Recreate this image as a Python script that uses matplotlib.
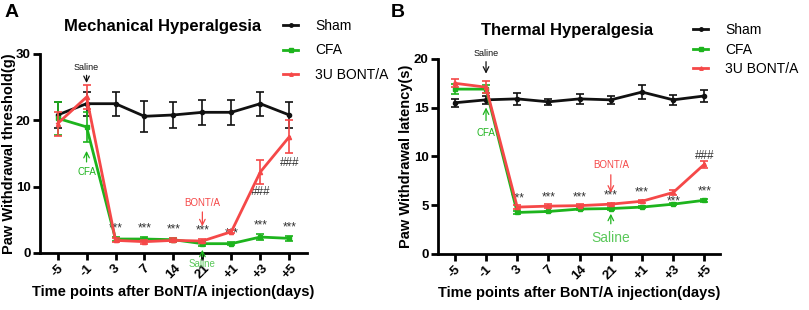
import numpy as np
import matplotlib
matplotlib.use("Agg")
import matplotlib.pyplot as plt
from matplotlib.lines import Line2D

plt.rcParams['font.family'] = ['Liberation Sans', 'DejaVu Sans']

labels = ['-5', '-1', '3', '7', '14', '21', '+1', '+3', '+5']

# Mechanical hyperalgesia (g)
mech_sham = [20.8, 22.5, 22.5, 20.6, 20.8, 21.2, 21.2, 22.5, 20.8]
mech_sham_err = [2.0, 1.8, 1.8, 2.3, 2.0, 1.9, 1.9, 1.8, 2.0]
mech_cfa = [20.3, 19.0, 2.1, 2.1, 2.0, 1.4, 1.4, 2.4, 2.2]
mech_cfa_err = [2.5, 2.3, 0.3, 0.3, 0.3, 0.3, 0.2, 0.4, 0.4]
mech_bont = [19.5, 23.5, 1.9, 1.7, 1.9, 1.8, 3.2, 12.2, 17.5]
mech_bont_err = [1.8, 1.8, 0.3, 0.3, 0.3, 0.3, 0.2, 1.8, 2.5]

# Thermal hyperalgesia (s)
therm_sham = [15.5, 15.8, 15.9, 15.6, 15.9, 15.8, 16.6, 15.8, 16.2]
therm_sham_err = [0.4, 0.4, 0.6, 0.3, 0.5, 0.4, 0.7, 0.5, 0.6]
therm_cfa = [16.9, 16.9, 4.25, 4.35, 4.6, 4.65, 4.8, 5.1, 5.5]
therm_cfa_err = [0.5, 0.4, 0.15, 0.1, 0.1, 0.1, 0.1, 0.1, 0.15]
therm_bont = [17.5, 17.1, 4.8, 4.9, 4.95, 5.1, 5.4, 6.3, 9.2]
therm_bont_err = [0.4, 0.6, 0.2, 0.2, 0.15, 0.15, 0.15, 0.25, 0.35]

BLACK = '#111111'
GREEN = '#1db41d'
RED = '#f54848'
STAR = '#333333'

fig = plt.figure(figsize=(8.09, 3.10), dpi=100)
axA = fig.add_axes([0.049, 0.184, 0.330, 0.642])
axB = fig.add_axes([0.541, 0.181, 0.349, 0.629])

x = np.arange(len(labels))


def draw(ax, sham, sham_e, cfa, cfa_e, bont, bont_e):
    kw = dict(lw=2, capsize=3, capthick=1.2, elinewidth=1.2, markersize=3)
    ax.errorbar(x, sham, yerr=sham_e, color=BLACK, marker='o', zorder=3, **kw)
    ax.errorbar(x, cfa, yerr=cfa_e, color=GREEN, marker='s', zorder=4, **kw)
    ax.errorbar(x, bont, yerr=bont_e, color=RED, marker='^', zorder=5, **kw)
    for s in ['top', 'right']:
        ax.spines[s].set_visible(False)
    for s in ['left', 'bottom']:
        ax.spines[s].set_linewidth(2)
    ax.tick_params(width=2, length=5, pad=1.5)
    ax.tick_params(axis='y', labelsize=9.5)
    ax.tick_params(axis='x', labelsize=9.5)
    ax.set_xticks(x)
    ax.set_xticklabels(labels, rotation=45, fontweight='bold')
    for t in ax.get_yticklabels():
        t.set_fontweight('bold')
    ax.set_xlabel('Time points after BoNT/A injection(days)', fontsize=10.5,
                  fontweight='bold', labelpad=3)


def legend(ax, x0, ytop, spacing):
    handles = [Line2D([], [], color=BLACK, lw=2, marker='o', markersize=2.5),
               Line2D([], [], color=GREEN, lw=2, marker='s', markersize=2.5),
               Line2D([], [], color=RED, lw=2, marker='^', markersize=2.5)]
    ax.legend(handles, ['Sham', 'CFA', '3U BONT/A'], loc='upper left',
              bbox_to_anchor=(x0 / 809, 1 - ytop / 310), bbox_transform=fig.transFigure,
              frameon=False, fontsize=10, handlelength=1.1, handletextpad=1.2,
              labelspacing=spacing, borderpad=0, borderaxespad=0)


def arrow(ax, xi, y0, y1, color, lw=0.9):
    ax.annotate('', xy=(xi, y1), xytext=(xi, y0),
                arrowprops=dict(arrowstyle='->', color=color, lw=lw), annotation_clip=False)


# Panel A
draw(axA, mech_sham, mech_sham_err, mech_cfa, mech_cfa_err, mech_bont, mech_bont_err)
axA.set_xlim(-0.62, 8.6)
axA.set_ylim(0, 30)
axA.set_yticks([0, 10, 20, 30])
axA.set_ylabel('Paw Withdrawal threshold(g)', fontsize=10.5, fontweight='bold')
axA.yaxis.set_label_coords(-0.088, 0.5)
legend(axA, 283, 19, 0.75)
fig.text(163 / 809, 1 - 27 / 310, 'Mechanical Hyperalgesia', fontsize=12,
         fontweight='bold', ha='center', va='center')
for i in [2, 3, 4, 5, 6, 7, 8]:
    yv = max(mech_cfa[i], mech_bont[i]) if i < 6 else mech_cfa[i]
    yv = yv + mech_cfa_err[i] + 0.4
    axA.text(i, yv, '***', ha='center', va='bottom', fontsize=8.5, color=STAR)
axA.text(7, 9.2, '###', ha='center', va='center', fontsize=8.5, color=STAR)
axA.text(8, 13.6, '###', ha='center', va='center', fontsize=8.5, color=STAR)
axA.text(1, 28.0, 'Saline', ha='center', va='center', fontsize=6.5, color=BLACK)
arrow(axA, 1, 27.2, 25.2, BLACK)
arrow(axA, 1, 13.3, 15.8, GREEN)
axA.text(1, 12.2, 'CFA', ha='center', va='center', fontsize=7, color=GREEN)
axA.text(5, 7.5, 'BONT/A', ha='center', va='center', fontsize=7, color=RED)
arrow(axA, 5, 6.6, 3.6, RED)
arrow(axA, 5, -1.0, 0.9, GREEN)
axA.text(5, -1.6, 'Saline', ha='center', va='center', fontsize=7, color='#5bc85b', clip_on=False)

# Panel B
draw(axB, therm_sham, therm_sham_err, therm_cfa, therm_cfa_err, therm_bont, therm_bont_err)
axB.set_xlim(-0.55, 8.5)
axB.set_ylim(0, 20)
axB.set_yticks([0, 5, 10, 15, 20])
axB.set_ylabel('Paw Withdrawal latency(s)', fontsize=10.5, fontweight='bold')
axB.yaxis.set_label_coords(-0.088, 0.5)
legend(axB, 693, 23, 0.4)
fig.text(567 / 809, 1 - 30 / 310, 'Thermal Hyperalgesia', fontsize=12,
         fontweight='bold', ha='center', va='center')
for i in [2, 3, 4, 5, 6]:
    axB.text(i, therm_bont[i] + 0.25, '***', ha='center', va='bottom', fontsize=8.5, color=STAR)
axB.text(7, 5.35, '***', ha='center', va='center', fontsize=8.5, color=STAR)
axB.text(8, 6.4, '***', ha='center', va='center', fontsize=8.5, color=STAR)
axB.text(8, 10.0, '###', ha='center', va='center', fontsize=8.5, color=STAR)
axB.text(1, 20.6, 'Saline', ha='center', va='center', fontsize=6.5, color=BLACK)
arrow(axB, 1, 20.0, 18.2, BLACK)
arrow(axB, 1, 13.4, 15.3, GREEN)
axB.text(1, 12.4, 'CFA', ha='center', va='center', fontsize=7, color=GREEN)
axB.text(5, 9.1, 'BONT/A', ha='center', va='center', fontsize=7, color=RED)
arrow(axB, 5, 8.4, 6.0, RED)
arrow(axB, 5, 2.8, 4.4, GREEN)
axB.text(5, 1.6, 'Saline', ha='center', va='center', fontsize=10, color='#5bc85b')

fig.text(5 / 809, 1 - 4 / 310, 'A', fontsize=14, fontweight='bold', va='top')
fig.text(391 / 809, 1 - 4 / 310, 'B', fontsize=14, fontweight='bold', va='top')

fig.savefig('out.png', dpi=100)
